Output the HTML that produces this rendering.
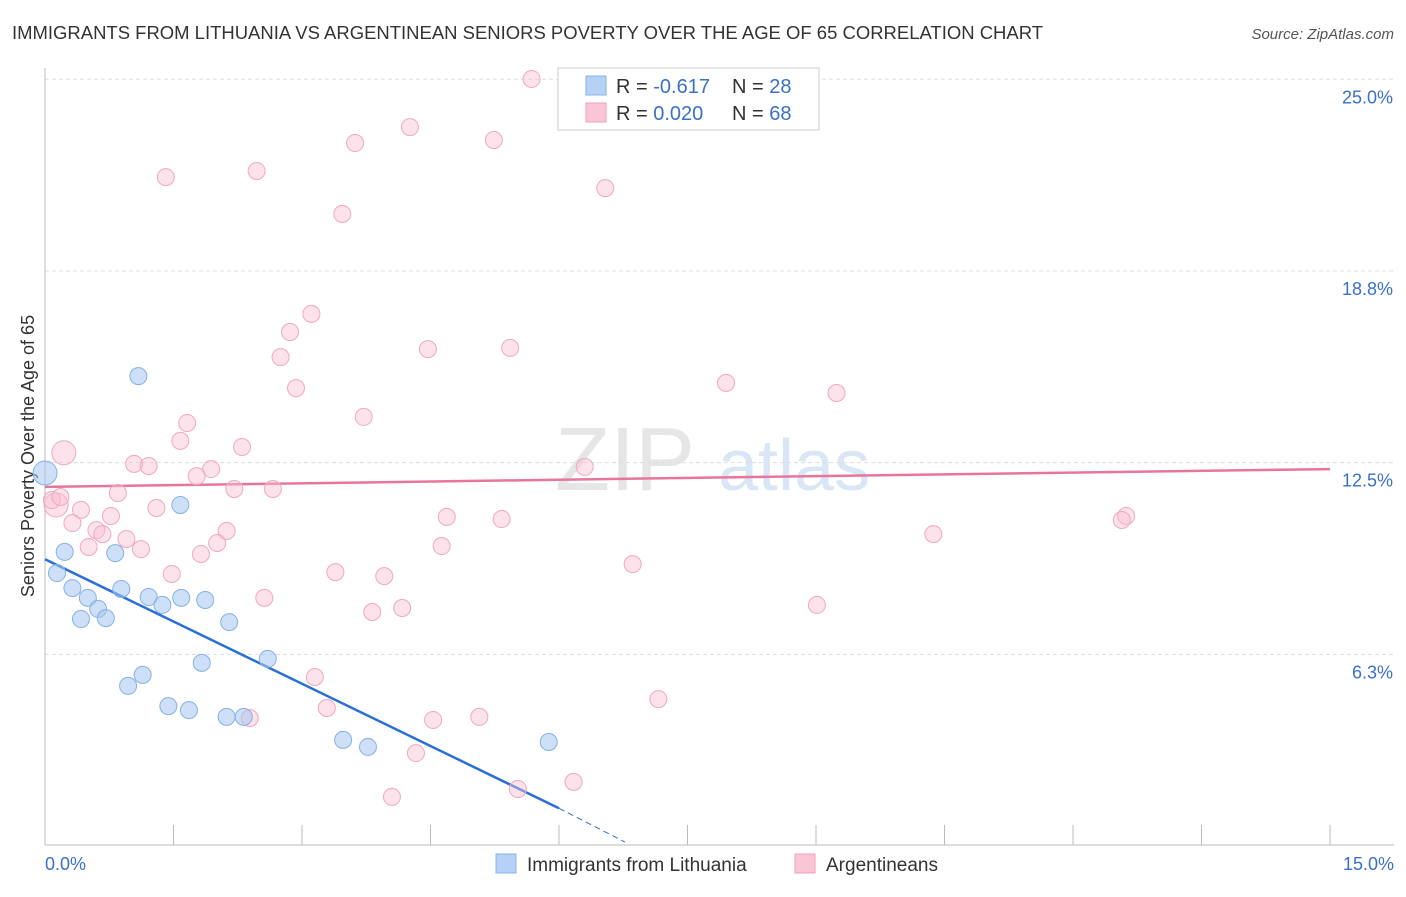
<!DOCTYPE html>
<html><head><meta charset="utf-8">
<style>
body{margin:0;background:#fff;font-family:"Liberation Sans",sans-serif;}
svg text{font-family:"Liberation Sans",sans-serif;}
</style></head>
<body>
<svg id="chart" width="1406" height="892" xmlns="http://www.w3.org/2000/svg">
<text x="12" y="39" font-size="18" fill="#333" textLength="1031" lengthAdjust="spacingAndGlyphs">IMMIGRANTS FROM LITHUANIA VS ARGENTINEAN SENIORS POVERTY OVER THE AGE OF 65 CORRELATION CHART</text>
<text x="1394" y="39" font-size="15" fill="#555" text-anchor="end" font-style="italic">Source: ZipAtlas.com</text>
<g>
<text x="555" y="490" font-size="90" fill="#e6e6e6" font-family="Liberation Serif">ZIP</text>
<text x="718" y="490" font-size="72" fill="#d9e6f5">atlas</text>
</g>
<text transform="translate(34,456) rotate(-90)" font-size="18" fill="#333" text-anchor="middle">Seniors Poverty Over the Age of 65</text>
<g id="grid"></g><g id="axes"></g><g id="trends"></g><g id="points"></g>
<g>
<rect x="558" y="68" width="261" height="62" fill="#fff" stroke="#ccc"/>
<rect x="586" y="76" width="20" height="19" fill="#b5d1f5" stroke="#8ab4e8"/>
<rect x="586" y="103" width="20" height="19" fill="#fac6d5" stroke="#f0a0b8"/>
<text x="616" y="93" font-size="20" fill="#333">R = <tspan fill="#3a70c8">-0.617</tspan></text>
<text x="732" y="93" font-size="20" fill="#333">N = <tspan fill="#3a70c8">28</tspan></text>
<text x="616" y="120" font-size="20" fill="#333">R = <tspan fill="#3a70c8">0.020</tspan></text>
<text x="732" y="120" font-size="20" fill="#333">N = <tspan fill="#3a70c8">68</tspan></text>
</g>
<g>
<rect x="496" y="854" width="20" height="19" fill="#b5d1f5" stroke="#8ab4e8"/>
<text x="527" y="871" font-size="19" fill="#333">Immigrants from Lithuania</text>
<rect x="795" y="854" width="20" height="19" fill="#fac6d5" stroke="#f0a0b8"/>
<text x="826" y="871" font-size="19" fill="#333">Argentineans</text>
</g>
</svg>
<script>
const yTicks=[25.0,18.75,12.5,6.25];
const yTickLabels=["25.0%","18.8%","12.5%","6.3%"];
const xTickCount=10;
const blueX=[0.00,0.23,0.14,0.32,0.50,0.62,0.42,0.71,0.82,0.89,1.09,1.21,1.37,1.59,1.87,1.58,2.15,1.83,1.14,0.97,1.44,1.68,2.12,2.32,2.60,3.48,3.77,5.88];
const blueY=[12.16,9.59,8.90,8.41,8.09,7.73,7.40,7.43,9.55,8.38,15.32,8.12,7.86,8.09,8.02,11.12,7.30,5.97,5.58,5.22,4.56,4.43,4.21,4.21,6.10,3.46,3.23,3.39];
const pinkX=[5.68,4.26,5.24,3.62,1.41,2.47,6.54,3.47,3.11,2.86,2.75,4.47,5.43,2.93,7.95,9.24,3.72,1.66,1.58,2.30,0.22,1.04,1.21,1.94,1.77,6.30,2.21,2.66,0.85,0.13,0.42,0.77,1.30,4.69,5.33,12.62,12.57,0.32,0.60,0.95,2.12,0.67,0.51,1.12,2.01,1.82,4.63,10.37,6.86,1.48,3.39,3.96,2.56,4.17,3.82,9.01,3.15,3.29,2.39,4.53,5.07,7.16,4.33,6.17,4.05,5.52,0.08,0.18];
const pinkY=[25.01,23.44,23.02,22.92,21.81,22.01,21.45,20.61,17.35,16.76,15.94,16.20,16.24,14.93,15.10,14.77,13.99,13.79,13.21,13.01,12.82,12.46,12.39,12.29,12.06,12.36,11.64,11.64,11.51,11.12,10.96,10.76,11.02,10.73,10.66,10.76,10.63,10.53,10.30,10.01,10.27,10.17,9.75,9.68,9.88,9.52,9.78,10.17,9.19,8.87,8.93,8.80,8.09,7.76,7.63,7.86,5.51,4.50,4.17,4.11,4.21,4.79,3.03,2.09,1.60,1.86,11.28,11.38];
const blueBig=[0];
const pinkBig=[20,29];
const blueTrend=[[0,9.35],[6.0,1.23],[6.77,0.13]];
const pinkTrend=[[0,11.71],[15,12.29]];
const NS="http://www.w3.org/2000/svg";
const X=v=>45+v/15*1285, Y=v=>846-v*30.67;
function mk(tag,attrs,parent){const e=document.createElementNS(NS,tag);for(const k in attrs)e.setAttribute(k,attrs[k]);document.getElementById(parent).appendChild(e);return e;}
yTicks.forEach((t,i)=>{
 const l=mk('line',{x1:45,x2:1394,y1:Y(t),y2:Y(t),stroke:'#ddd','stroke-dasharray':'4,3'},'grid');
 
 
 const tx=mk('text',{x:1393,y:Y(t)+24,'font-size':18,fill:'#3a70c8','text-anchor':'end'},'grid');
 tx.textContent=yTickLabels[i];
 
 
});
let a=mk('line',{x1:45,x2:1394,y1:845,y2:845,stroke:'#bbb'},'axes');


a=mk('line',{x1:45,x2:45,y1:68,y2:845,stroke:'#bbb'},'axes');


for(let i=1;i<=xTickCount;i++){
 const t=mk('line',{x1:X(i*1.5),x2:X(i*1.5),y1:825,y2:845,stroke:'#bbb'},'axes');
 
 
}
let t=mk('text',{x:45,y:870,'font-size':18,fill:'#3a70c8'},'axes');t.textContent='0.0%';


t=mk('text',{x:1394,y:870,'font-size':18,fill:'#3a70c8','text-anchor':'end'},'axes');t.textContent='15.0%';


function dots(xs,ys,big,fill,stroke,name){
 xs.forEach((x,i)=>{const r=big.includes(i)?12:8.5;
  const c=mk('circle',{cx:X(x),cy:Y(ys[i]),r:r,fill:fill,stroke:stroke,'stroke-width':1},'points');
  
  });
}
dots(pinkX,pinkY,pinkBig,'rgba(248,190,210,0.45)','#f0a8bf','argentineans-point');
dots(blueX,blueY,blueBig,'rgba(164,198,240,0.55)','#86b0e6','lithuania-point');
let l=mk('line',{x1:X(pinkTrend[0][0]),y1:Y(pinkTrend[0][1]),x2:X(pinkTrend[1][0]),y2:Y(pinkTrend[1][1]),stroke:'#e8769c','stroke-width':2.5},'trends');


l=mk('line',{x1:X(blueTrend[0][0]),y1:Y(blueTrend[0][1]),x2:X(blueTrend[1][0]),y2:Y(blueTrend[1][1]),stroke:'#2a6fd6','stroke-width':2.5},'trends');


l=mk('line',{x1:X(blueTrend[1][0]),y1:Y(blueTrend[1][1]),x2:X(blueTrend[2][0]),y2:Y(blueTrend[2][1]),stroke:'#2a6fd6','stroke-width':1,'stroke-dasharray':'6,4'},'trends');


</script>
</body></html>
